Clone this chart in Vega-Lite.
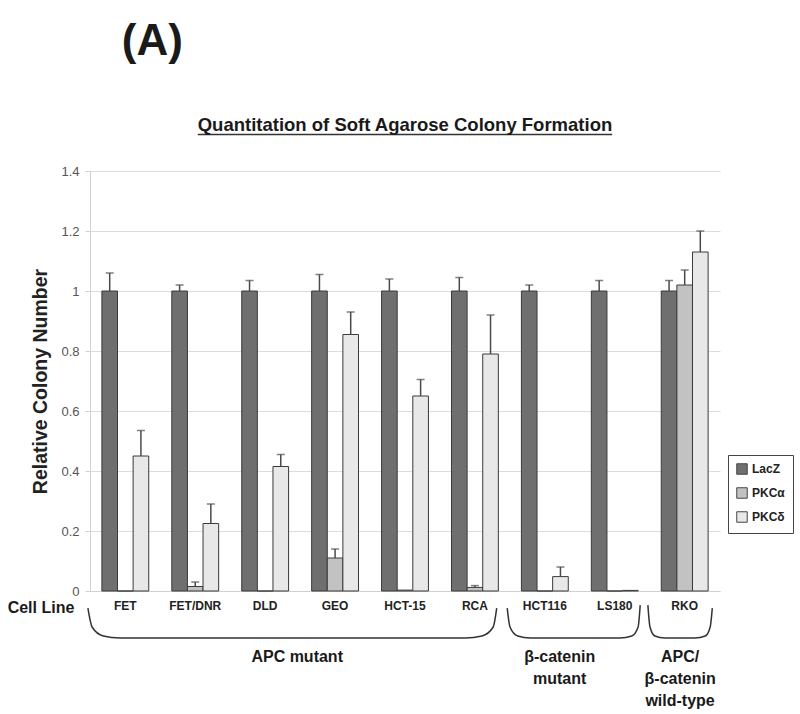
{
  "$schema": "https://vega.github.io/schema/vega-lite/v6.json",
  "width": 630,
  "height": 420,
  "autosize": {"type": "none"},
  "padding": {"left": 90, "top": 171, "right": 80, "bottom": 123},
  "background": "white",
  "config": {
    "view": {"stroke": null},
    "font": "Liberation Sans",
    "legend": {
      "orient": "none",
      "legendX": 638,
      "legendY": 284,
      "strokeColor": "#444",
      "padding": 8,
      "labelFontWeight": "bold",
      "labelFontSize": 12,
      "labelColor": "#222",
      "symbolType": "square",
      "symbolSize": 110,
      "symbolStrokeColor": "#444",
      "symbolStrokeWidth": 1,
      "rowPadding": 8,
      "title": null
    }
  },
  "datasets": {
    "bars": [
      {"cell": "FET", "group": "LacZ", "value": 1.0, "hi": 1.06},
      {"cell": "FET", "group": "PKCα", "value": 0.0, "hi": null},
      {"cell": "FET", "group": "PKCδ", "value": 0.45, "hi": 0.535},
      {"cell": "FET/DNR", "group": "LacZ", "value": 1.0, "hi": 1.02},
      {"cell": "FET/DNR", "group": "PKCα", "value": 0.015, "hi": 0.03},
      {"cell": "FET/DNR", "group": "PKCδ", "value": 0.225, "hi": 0.29},
      {"cell": "DLD", "group": "LacZ", "value": 1.0, "hi": 1.035},
      {"cell": "DLD", "group": "PKCα", "value": 0.0, "hi": null},
      {"cell": "DLD", "group": "PKCδ", "value": 0.415, "hi": 0.455},
      {"cell": "GEO", "group": "LacZ", "value": 1.0, "hi": 1.055},
      {"cell": "GEO", "group": "PKCα", "value": 0.11, "hi": 0.14},
      {"cell": "GEO", "group": "PKCδ", "value": 0.855, "hi": 0.93},
      {"cell": "HCT-15", "group": "LacZ", "value": 1.0, "hi": 1.04},
      {"cell": "HCT-15", "group": "PKCα", "value": 0.003, "hi": null},
      {"cell": "HCT-15", "group": "PKCδ", "value": 0.65, "hi": 0.705},
      {"cell": "RCA", "group": "LacZ", "value": 1.0, "hi": 1.045},
      {"cell": "RCA", "group": "PKCα", "value": 0.012, "hi": 0.018},
      {"cell": "RCA", "group": "PKCδ", "value": 0.79, "hi": 0.92},
      {"cell": "HCT116", "group": "LacZ", "value": 1.0, "hi": 1.02},
      {"cell": "HCT116", "group": "PKCα", "value": 0.0, "hi": null},
      {"cell": "HCT116", "group": "PKCδ", "value": 0.048, "hi": 0.08},
      {"cell": "LS180", "group": "LacZ", "value": 1.0, "hi": 1.035},
      {"cell": "LS180", "group": "PKCα", "value": 0.0, "hi": null},
      {"cell": "LS180", "group": "PKCδ", "value": 0.002, "hi": null},
      {"cell": "RKO", "group": "LacZ", "value": 1.0, "hi": 1.035},
      {"cell": "RKO", "group": "PKCα", "value": 1.02, "hi": 1.07},
      {"cell": "RKO", "group": "PKCδ", "value": 1.13, "hi": 1.2}
    ],
    "braces": [
      {"brace": "APC", "i": 0, "x": -0.03, "y": -0.057},
      {"brace": "APC", "i": 1, "x": 0.03, "y": -0.12},
      {"brace": "APC", "i": 2, "x": 0.19, "y": -0.15},
      {"brace": "APC", "i": 3, "x": 0.43, "y": -0.157},
      {"brace": "APC", "i": 4, "x": 5.36, "y": -0.157},
      {"brace": "APC", "i": 5, "x": 5.6, "y": -0.15},
      {"brace": "APC", "i": 6, "x": 5.76, "y": -0.12},
      {"brace": "APC", "i": 7, "x": 5.81, "y": -0.057},
      {"brace": "bcat", "i": 0, "x": 5.96, "y": -0.057},
      {"brace": "bcat", "i": 1, "x": 6.0, "y": -0.12},
      {"brace": "bcat", "i": 2, "x": 6.11, "y": -0.15},
      {"brace": "bcat", "i": 3, "x": 6.29, "y": -0.157},
      {"brace": "bcat", "i": 4, "x": 7.57, "y": -0.157},
      {"brace": "bcat", "i": 5, "x": 7.74, "y": -0.15},
      {"brace": "bcat", "i": 6, "x": 7.83, "y": -0.12},
      {"brace": "bcat", "i": 7, "x": 7.86, "y": -0.047},
      {"brace": "wt", "i": 0, "x": 7.97, "y": -0.047},
      {"brace": "wt", "i": 1, "x": 8.0, "y": -0.12},
      {"brace": "wt", "i": 2, "x": 8.07, "y": -0.15},
      {"brace": "wt", "i": 3, "x": 8.21, "y": -0.157},
      {"brace": "wt", "i": 4, "x": 8.64, "y": -0.157},
      {"brace": "wt", "i": 5, "x": 8.79, "y": -0.15},
      {"brace": "wt", "i": 6, "x": 8.86, "y": -0.12},
      {"brace": "wt", "i": 7, "x": 8.89, "y": -0.057}
    ],
    "labels": [
      {"text": "(A)", "x": 0.89, "y": 1.83, "kind": "big"},
      {"text": "Quantitation of Soft Agarose Colony Formation", "x": 4.5, "y": 1.555, "kind": "title"},
      {"text": "Cell Line", "x": -0.7, "y": -0.055, "kind": "cell"},
      {"text": "APC mutant", "x": 2.96, "y": -0.22, "kind": "group"},
      {"text": "β-catenin", "x": 6.71, "y": -0.22, "kind": "group"},
      {"text": "mutant", "x": 6.71, "y": -0.293, "kind": "group"},
      {"text": "APC/", "x": 8.43, "y": -0.22, "kind": "group"},
      {"text": "β-catenin", "x": 8.43, "y": -0.293, "kind": "group"},
      {"text": "wild-type", "x": 8.43, "y": -0.367, "kind": "group"}
    ],
    "underline": [
      {"x": 1.54, "x2": 7.46, "y": 1.522}
    ]
  },
  "resolve": {"scale": {"x": "independent", "y": "independent"}},
  "layer": [
    {
      "layer": [
        {
          "data": {"name": "bars"},
          "mark": {"type": "bar", "stroke": "#3a3a3a", "strokeWidth": 1},
          "encoding": {
            "x": {
              "field": "cell", "type": "nominal",
              "sort": ["FET", "FET/DNR", "DLD", "GEO", "HCT-15", "RCA", "HCT116", "LS180", "RKO"],
              "scale": {"domain": ["FET", "FET/DNR", "DLD", "GEO", "HCT-15", "RCA", "HCT116", "LS180", "RKO"], "paddingInner": 0.33, "paddingOuter": 0.17},
              "axis": {"title": null, "labelAngle": 0, "labelFontWeight": "bold", "labelFontSize": 12, "labelColor": "#222", "ticks": false, "domainColor": "#d0d0d0", "labelPadding": 9}
            },
            "xOffset": {"field": "group", "type": "nominal", "scale": {"domain": ["LacZ", "PKCα", "PKCδ"], "paddingInner": 0, "paddingOuter": 0}},
            "y": {
              "field": "value", "type": "quantitative",
              "scale": {"domain": [0, 1.4], "nice": false},
              "axis": {"values": [0, 0.2, 0.4, 0.6, 0.8, 1, 1.2, 1.4], "format": "~g", "title": "Relative Colony Number", "titleFontSize": 19.5, "titleFontWeight": "bold", "titleColor": "#222", "titlePadding": 10, "labelFontSize": 13, "labelColor": "#555", "labelPadding": 6, "gridColor": "#dcdcdc", "domainColor": "#d0d0d0", "tickColor": "#d0d0d0", "tickSize": 5}
            },
            "color": {"field": "group", "type": "nominal", "scale": {"domain": ["LacZ", "PKCα", "PKCδ"], "range": ["#6f6f6f", "#c2c2c2", "#e8e8e8"]}, "legend": {}}
          }
        },
        {
          "data": {"name": "bars"},
          "transform": [{"filter": "datum.hi != null"}],
          "mark": {"type": "rule", "color": "#4a4a4a", "strokeWidth": 1.5},
          "encoding": {
            "x": {"field": "cell", "type": "nominal", "sort": ["FET", "FET/DNR", "DLD", "GEO", "HCT-15", "RCA", "HCT116", "LS180", "RKO"]},
            "xOffset": {"field": "group", "type": "nominal"},
            "y": {"field": "value", "type": "quantitative"},
            "y2": {"field": "hi"}
          }
        },
        {
          "data": {"name": "bars"},
          "transform": [{"filter": "datum.hi != null"}],
          "mark": {"type": "tick", "color": "#4a4a4a", "thickness": 1.5, "size": 8},
          "encoding": {
            "x": {"field": "cell", "type": "nominal", "sort": ["FET", "FET/DNR", "DLD", "GEO", "HCT-15", "RCA", "HCT116", "LS180", "RKO"]},
            "xOffset": {"field": "group", "type": "nominal"},
            "y": {"field": "hi", "type": "quantitative"}
          }
        }
      ]
    },
    {
      "data": {"name": "braces"},
      "mark": {"type": "line", "color": "#333", "strokeWidth": 1.5, "interpolate": "monotone"},
      "encoding": {
        "x": {"field": "x", "type": "quantitative", "scale": {"domain": [0, 9], "nice": false, "zero": false}, "axis": null},
        "y": {"field": "y", "type": "quantitative", "scale": {"domain": [0, 1.4], "nice": false, "zero": false}, "axis": null},
        "detail": {"field": "brace"},
        "order": {"field": "i", "type": "quantitative"}
      }
    },
    {
      "data": {"name": "underline"},
      "mark": {"type": "rule", "color": "#333", "strokeWidth": 1.5},
      "encoding": {
        "x": {"field": "x", "type": "quantitative", "scale": {"domain": [0, 9], "nice": false, "zero": false}, "axis": null},
        "x2": {"field": "x2"},
        "y": {"field": "y", "type": "quantitative", "scale": {"domain": [0, 1.4], "nice": false, "zero": false}, "axis": null}
      }
    },
    {
      "data": {"name": "labels"},
      "transform": [{"filter": "datum.kind == 'big'"}],
      "mark": {"type": "text", "fontWeight": "bold", "color": "#1a1a1a", "baseline": "middle", "align": "center", "fontSize": 44},
      "encoding": {
        "x": {"field": "x", "type": "quantitative", "scale": {"domain": [0, 9], "nice": false, "zero": false}, "axis": null},
        "y": {"field": "y", "type": "quantitative", "scale": {"domain": [0, 1.4], "nice": false, "zero": false}, "axis": null},
        "text": {"field": "text"}
      }
    },
    {
      "data": {"name": "labels"},
      "transform": [{"filter": "datum.kind == 'title'"}],
      "mark": {"type": "text", "fontWeight": "bold", "color": "#1a1a1a", "baseline": "middle", "align": "center", "fontSize": 18.5},
      "encoding": {
        "x": {"field": "x", "type": "quantitative", "scale": {"domain": [0, 9], "nice": false, "zero": false}, "axis": null},
        "y": {"field": "y", "type": "quantitative", "scale": {"domain": [0, 1.4], "nice": false, "zero": false}, "axis": null},
        "text": {"field": "text"}
      }
    },
    {
      "data": {"name": "labels"},
      "transform": [{"filter": "datum.kind == 'cell'"}],
      "mark": {"type": "text", "fontWeight": "bold", "color": "#1a1a1a", "baseline": "middle", "align": "center", "fontSize": 16},
      "encoding": {
        "x": {"field": "x", "type": "quantitative", "scale": {"domain": [0, 9], "nice": false, "zero": false}, "axis": null},
        "y": {"field": "y", "type": "quantitative", "scale": {"domain": [0, 1.4], "nice": false, "zero": false}, "axis": null},
        "text": {"field": "text"}
      }
    },
    {
      "data": {"name": "labels"},
      "transform": [{"filter": "datum.kind == 'group'"}],
      "mark": {"type": "text", "fontWeight": "bold", "color": "#1a1a1a", "baseline": "middle", "align": "center", "fontSize": 16},
      "encoding": {
        "x": {"field": "x", "type": "quantitative", "scale": {"domain": [0, 9], "nice": false, "zero": false}, "axis": null},
        "y": {"field": "y", "type": "quantitative", "scale": {"domain": [0, 1.4], "nice": false, "zero": false}, "axis": null},
        "text": {"field": "text"}
      }
    }
  ]
}
